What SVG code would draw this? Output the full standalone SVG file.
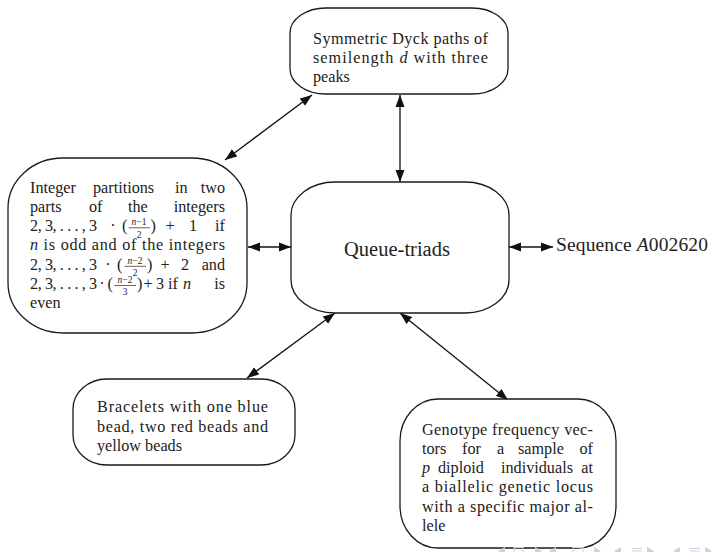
<svg xmlns="http://www.w3.org/2000/svg" width="712" height="552" viewBox="0 0 712 552">
<style>
.t{font-family:'Liberation Serif','DejaVu Serif',serif;font-size:16.2px;fill:#222}
.s{font-family:'Liberation Serif','DejaVu Serif',serif;font-size:9.5px;fill:#222;text-anchor:middle}
.e{text-anchor:end}
.box{fill:#fff;stroke:#1a1a1a;stroke-width:1.3}
.i{font-style:italic}
.edge{stroke:#111;stroke-width:1.3;fill:none;marker-start:url(#ah);marker-end:url(#ah)}
.bar{stroke:#222;stroke-width:0.7}
.nav{fill:#cdd1e6;stroke:none}
.navs{fill:none;stroke:#cdd1e6;stroke-width:1}
</style>
<defs>
<marker id="ah" markerUnits="userSpaceOnUse" markerWidth="12" markerHeight="10" viewBox="0 0 12 10" refX="12" refY="5" orient="auto-start-reverse">
<path d="M0,0.5 L12,5 L0,9.5 Z" fill="#111"/>
</marker>
</defs>
<rect width="712" height="552" fill="#fff"/>

<g id="connectors">
<line class="edge" x1="225" y1="160" x2="312" y2="95"/>
<line class="edge" x1="400" y1="95" x2="400" y2="182"/>
<line class="edge" x1="248" y1="247" x2="291" y2="247"/>
<line class="edge" x1="509" y1="247" x2="553" y2="247"/>
<line class="edge" x1="335" y1="313" x2="247" y2="378"/>
<line class="edge" x1="400" y1="313" x2="508" y2="400"/>
</g>

<g id="queue">
<rect class="box" x="291" y="182" width="218" height="131" rx="44" ry="33"/>
<text class="t" x="397" y="256" text-anchor="middle" style="font-size:20.5px">Queue-triads</text>
</g>

<g id="dyck">
<rect class="box" x="290" y="8" width="218" height="86" rx="36" ry="25"/>
<text class="t" x="313" y="43.5" textLength="175" lengthAdjust="spacing">Symmetric Dyck paths of</text>
<text class="t" x="313" y="62.5" textLength="175" lengthAdjust="spacing">semilength <tspan class="i">d</tspan> with three</text>
<text class="t" x="313" y="81.5">peaks</text>
</g>

<g id="partitions">
<rect class="box" x="8" y="158" width="239" height="175" rx="55" ry="50"/>
<text class="t" y="192.5"><tspan x="30">Integer</tspan><tspan x="93">partitions</tspan><tspan x="175">in</tspan></text>
<text class="t e" x="225" y="192.5">two</text>
<text class="t" y="211.8"><tspan x="30">parts</tspan><tspan x="89">of</tspan><tspan x="128">the</tspan></text>
<text class="t e" x="225" y="211.8">integers</text>
<text class="t" x="30" y="231" textLength="67" lengthAdjust="spacing">2, 3, . . . , 3</text>
<text class="t" x="113" y="231" text-anchor="middle">·</text>
<text class="t" x="122" y="231">(</text>
<text class="s"><tspan x="139" y="225"><tspan class="i">n</tspan>−1</tspan><tspan x="139" y="237.5">2</tspan></text>
<line class="bar" x1="128.5" y1="227.8" x2="150" y2="227.8"/>
<text class="t" x="150.5" y="231">)</text>
<text class="t" x="170" y="231" text-anchor="middle">+</text>
<text class="t" x="193" y="231" text-anchor="middle">1</text>
<text class="t e" x="225" y="231">if</text>
<text class="t" x="30" y="250.2" textLength="195" lengthAdjust="spacing"><tspan class="i">n</tspan> is odd and of the integers</text>
<text class="t" x="30" y="269.5" textLength="67" lengthAdjust="spacing">2, 3, . . . , 3</text>
<text class="t" x="108" y="269.5" text-anchor="middle">·</text>
<text class="t" x="117" y="269.5">(</text>
<text class="s"><tspan x="135" y="263.5"><tspan class="i">n</tspan>−2</tspan><tspan x="135" y="276">2</tspan></text>
<line class="bar" x1="124.5" y1="266.3" x2="146" y2="266.3"/>
<text class="t" x="147" y="269.5">)</text>
<text class="t" x="165" y="269.5" text-anchor="middle">+</text>
<text class="t" x="185" y="269.5" text-anchor="middle">2</text>
<text class="t e" x="225" y="269.5">and</text>
<text class="t" x="30" y="288.7" textLength="67" lengthAdjust="spacing">2, 3, . . . , 3</text>
<text class="t" x="102" y="288.7" text-anchor="middle">·</text>
<text class="t" x="107.5" y="288.7">(</text>
<text class="s"><tspan x="125" y="282.7"><tspan class="i">n</tspan>−2</tspan><tspan x="125" y="295.2">3</tspan></text>
<line class="bar" x1="114.5" y1="285.5" x2="136" y2="285.5"/>
<text class="t" x="137" y="288.7">)</text>
<text class="t" x="148" y="288.7" text-anchor="middle">+</text>
<text class="t" x="160" y="288.7" text-anchor="middle">3</text>
<text class="t" x="168" y="288.7">if</text>
<text class="t i" x="183" y="288.7">n</text>
<text class="t e" x="225" y="288.7">is</text>
<text class="t" x="30" y="308">even</text>
</g>

<g id="bracelets">
<rect class="box" x="73" y="379" width="222" height="86" rx="34" ry="30"/>
<text class="t" x="97" y="412" textLength="171" lengthAdjust="spacing">Bracelets with one blue</text>
<text class="t" x="97" y="431.5" textLength="171" lengthAdjust="spacing">bead, two red beads and</text>
<text class="t" x="97" y="451">yellow beads</text>
</g>

<g id="genotype">
<rect class="box" x="400" y="399" width="216" height="149" rx="38" ry="42"/>
<text class="t" x="422" y="434.5" textLength="171" lengthAdjust="spacing">Genotype frequency vec-</text>
<text class="t" y="453.8"><tspan x="422">tors</tspan><tspan x="462">for</tspan><tspan x="497">a</tspan><tspan x="518">sample</tspan></text>
<text class="t e" x="593" y="453.8">of</text>
<text class="t" y="473"><tspan x="422" class="i">p</tspan><tspan x="438">diploid</tspan><tspan x="501">individuals</tspan></text>
<text class="t e" x="593" y="473">at</text>
<text class="t" x="422" y="492.3" textLength="171" lengthAdjust="spacing">a biallelic genetic locus</text>
<text class="t" x="422" y="511.6" textLength="171" lengthAdjust="spacing">with a specific major al-</text>
<text class="t" x="422" y="530.9">lele</text>
</g>

<g id="sequence">
<text class="t" x="556" y="251" style="font-size:19.5px" textLength="152" lengthAdjust="spacing">Sequence <tspan class="i">A</tspan>002620</text>
</g>

<g id="navigation">
<polygon class="nav" points="498,551 505,547 505,555"/>
<rect class="navs" x="514" y="547.5" width="9" height="8"/>
<polygon class="nav" points="535,547 542,551 535,555"/>
<polygon class="nav" points="549,551 556,547 556,555"/>
<rect class="navs" x="573" y="547.5" width="10" height="8"/>
<polygon class="nav" points="594,547 601,551 594,555"/>
<polygon class="nav" points="614,551 621,547 621,555"/>
<path class="navs" d="M632,548.5 H642 M632,551 H642"/>
<polygon class="nav" points="647,547 654,551 647,555"/>
<polygon class="nav" points="673,551 680,547 680,555"/>
<path class="navs" d="M690,548.5 H700 M690,551 H700"/>
<polygon class="nav" points="705,547 712,551 705,555"/>
</g>
</svg>
